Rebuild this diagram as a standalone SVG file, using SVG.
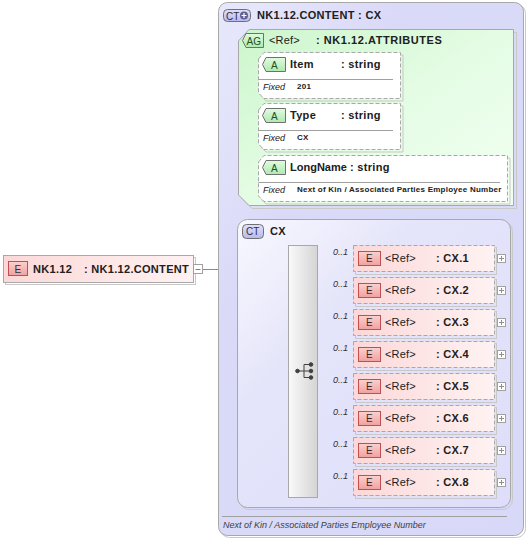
<svg xmlns="http://www.w3.org/2000/svg" width="530" height="540" viewBox="0 0 530 540">
<defs>
<linearGradient id="gOuter" x1="0" y1="0" x2="1" y2="1"><stop offset="0" stop-color="#e8e8fc"/><stop offset="0.3" stop-color="#dadaf8"/><stop offset="1" stop-color="#d8d8f8"/></linearGradient>
<linearGradient id="gCX" x1="0" y1="0" x2="1" y2="1"><stop offset="0" stop-color="#f8f8ff"/><stop offset="0.35" stop-color="#e4e4fa"/><stop offset="1" stop-color="#dedefa"/></linearGradient>
<linearGradient id="gAG" x1="0" y1="0" x2="1" y2="1"><stop offset="0" stop-color="#ccf6cc"/><stop offset="0.5" stop-color="#e4fce4"/><stop offset="1" stop-color="#f2fff2"/></linearGradient>
<linearGradient id="gEl" x1="0" y1="0" x2="1" y2="0"><stop offset="0" stop-color="#fcd8d8"/><stop offset="1" stop-color="#fff2f2"/></linearGradient>
<linearGradient id="gSeq" x1="0" y1="0" x2="1" y2="0"><stop offset="0" stop-color="#fafafa"/><stop offset="1" stop-color="#d4d4d4"/></linearGradient>
<linearGradient id="gE" x1="0" y1="0" x2="0" y2="1"><stop offset="0" stop-color="#fcd0d0"/><stop offset="1" stop-color="#f0a0a0"/></linearGradient>
<linearGradient id="gA" x1="0" y1="0" x2="0" y2="1"><stop offset="0" stop-color="#e0fce0"/><stop offset="1" stop-color="#b0e8b0"/></linearGradient>
<linearGradient id="gCT" x1="0" y1="0" x2="0" y2="1"><stop offset="0" stop-color="#e0e0fc"/><stop offset="1" stop-color="#b8b8ec"/></linearGradient>
</defs>
<style>
text{font-family:"Liberation Sans",Arial,sans-serif;fill:#202020}
.b{font-weight:bold;font-size:11px;letter-spacing:0.3px}
.r{font-size:11px;letter-spacing:0.2px}
.bd{font-size:10px;fill:#303030}
.fx{font-style:italic;font-size:9px}
.fv{font-weight:bold;font-size:8px;letter-spacing:0.25px}
.m{font-style:italic;font-size:9px;fill:#303030}
.ln{stroke:#8a8a8a;stroke-width:1;fill:none}
.box{stroke:#a8a8a8;stroke-width:1}
.dash{stroke:#a8a8a8;stroke-width:1;stroke-dasharray:4,2}
.sh{stroke:#c8c8c8;stroke-width:1;fill:none}
.btn{fill:#fff;stroke:#a0a0a0;stroke-width:1}
.ebadge{fill:url(#gE);stroke:#c05050;stroke-width:1}
.abadge{fill:url(#gA);stroke:#707070;stroke-width:1}
.ctbadge{fill:url(#gCT);stroke:#707070;stroke-width:1}
</style>

<g id="connectors">
<path class="ln" d="M203,269.5H228.5M228.5,121.5V363.5H238M238,371.5H288.5"/>
<path class="ln" d="M228.5,121.5H248.5M248.5,75.5V178.5M248.5,75.5H258.5M248.5,126.5H258.5M248.5,178.5H258.5"/>
<path class="ln" d="M317.5,258.5H353.5M317.5,290.5H353.5M317.5,322.5H353.5M317.5,354.5H353.5M317.5,386.5H353.5M317.5,418.5H353.5M317.5,450.5H353.5M317.5,482.5H353.5"/>
<text class="m" x="258" y="368">[1]..[1]</text>
</g>

<g id="nk112">
<rect x="5.5" y="257.5" width="190" height="27" class="sh"/>
<rect x="3.5" y="255.5" width="190" height="27" fill="url(#gEl)" class="box"/>
<rect x="8.5" y="261.5" width="19" height="14" class="ebadge"/>
<text class="bd" x="14.5" y="272.5">E</text>
<text class="b" x="33" y="273">NK1.12</text>
<text class="b" x="84" y="273">: NK1.12.CONTENT</text>
<rect x="193.5" y="264.5" width="9" height="9" class="btn"/>
<path d="M195.5,269.5h5" stroke="#808080"/>
</g>

<g id="content">
<rect x="220.5" y="4.5" width="305" height="533" rx="9" class="sh"/>
<rect x="218.5" y="2.5" width="305" height="533" rx="9" fill="url(#gOuter)" class="box"/>
<rect x="223.5" y="9.5" width="27" height="12" rx="4" class="ctbadge"/>
<text class="bd" x="226" y="19.5">CT</text>
<circle cx="244" cy="15.5" r="4" fill="#606090"/>
<path d="M241.5,15.5h5M244,13v5" stroke="#fff" stroke-width="1.2"/>
<text class="b" x="257" y="19">NK1.12.CONTENT : CX</text>
<line x1="222" y1="516.5" x2="507" y2="516.5" stroke="#a0a0a0"/>
<text x="223" y="528" style="font-style:italic;font-size:9px;fill:#404040">Next of Kin / Associated Parties Employee Number</text>
</g>

<g id="attributes">
<path d="M241.5,44 L252,32.5 H516.5 V208.5 H252 L241.5,198 Z" class="sh"/>
<path d="M238.5,41 L249,29.5 H513.5 V205.5 H249 L238.5,195 Z" fill="url(#gAG)" class="box"/>
<path d="M242.5,40.5 L246,33.5 H263.5 V47.5 H246 Z" class="abadge"/>
<text class="bd" x="246.5" y="44.5" style="fill:#205020">AG</text>
<text class="r" x="269" y="44">&lt;Ref&gt;</text>
<text class="b" x="316" y="44" style="letter-spacing:0.55px">: NK1.12.ATTRIBUTES</text>
</g>

<g id="item">
<path d="M261,62 L266,55 H403 V101 H266 L261,96" class="sh"/>
<path d="M258.5,59 L264,52.5 H400.5 V98.5 H264 L258.5,93 Z" fill="#fff" class="dash"/>
<path d="M262.5,64.5 L266,57.5 H285.5 V71.5 H266 Z" class="abadge"/>
<text class="bd" x="271" y="68.5" style="fill:#205020">A</text>
<text class="b" x="290" y="68">Item</text>
<text class="b" x="341" y="68">: string</text>
<line x1="258.5" y1="79.5" x2="393" y2="79.5" stroke="#a0a0a0"/>
<text class="fx" x="263" y="90">Fixed</text>
<text class="fv" x="297" y="89">201</text>
</g>

<g id="type">
<path d="M261,113 L266,106 H403 V152 H266 L261,147" class="sh"/>
<path d="M258.5,110 L264,103.5 H400.5 V149.5 H264 L258.5,144 Z" fill="#fff" class="dash"/>
<path d="M262.5,115.5 L266,108.5 H285.5 V122.5 H266 Z" class="abadge"/>
<text class="bd" x="271" y="119.5" style="fill:#205020">A</text>
<text class="b" x="290" y="119">Type</text>
<text class="b" x="341" y="119">: string</text>
<line x1="258.5" y1="130.5" x2="393" y2="130.5" stroke="#a0a0a0"/>
<text class="fx" x="263" y="141">Fixed</text>
<text class="fv" x="297" y="140">CX</text>
</g>

<g id="longname">
<path d="M261,165 L266,158 H510 V204 H266 L261,199" class="sh"/>
<path d="M258.5,162 L264,155.5 H507.5 V201.5 H264 L258.5,196 Z" fill="#fff" class="dash"/>
<path d="M262.5,167.5 L266,160.5 H285.5 V174.5 H266 Z" class="abadge"/>
<text class="bd" x="271" y="171.5" style="fill:#205020">A</text>
<text class="b" x="290" y="171" style="letter-spacing:0">LongName</text>
<text class="b" x="350" y="171">: string</text>
<line x1="258.5" y1="182.5" x2="500" y2="182.5" stroke="#a0a0a0"/>
<text class="fx" x="263" y="193">Fixed</text>
<text class="fv" x="297" y="192">Next of Kin / Associated Parties Employee Number</text>
</g>

<g id="cx">
<rect x="239.5" y="221.5" width="273" height="288" rx="10" class="sh"/>
<rect x="237.5" y="219.5" width="273" height="288" rx="10" fill="url(#gCX)" class="box"/>
<rect x="242.5" y="224.5" width="21" height="14" rx="4" class="ctbadge"/>
<text class="bd" x="246" y="235">CT</text>
<text class="b" x="270" y="235">CX</text>
</g>

<g id="sequence">
<rect x="288.5" y="245.5" width="29" height="252" fill="url(#gSeq)" stroke="#a8a8a8"/>
<g fill="#404040" stroke="#404040">
<circle cx="297.5" cy="371" r="1.8"/>
<path d="M297.5,371H304M304,364.5V377.5M304,364.5H311M304,371H311M304,377.5H311" fill="none"/>
<circle cx="311" cy="364.5" r="1.8"/>
<circle cx="311" cy="371" r="1.8"/>
<circle cx="311" cy="377.5" r="1.8"/>
</g>
</g>

<g id="cx1">
<rect x="355.5" y="247.5" width="141" height="27" class="sh"/>
<rect x="353.5" y="245.5" width="141" height="26" fill="url(#gEl)" class="dash"/>
<rect x="358.5" y="251.5" width="22" height="14" class="ebadge"/>
<text class="bd" x="366" y="262">E</text>
<text class="r" x="385" y="262">&lt;Ref&gt;</text>
<text class="b" x="436" y="262">: CX.1</text>
<text class="m" x="333" y="255">0..1</text>
<rect x="497.5" y="254.5" width="8" height="8" class="btn"/><path d="M499,258.5h5M501.5,256v5" stroke="#909090"/>
</g>
<g id="cx2">
<rect x="355.5" y="279.5" width="141" height="27" class="sh"/>
<rect x="353.5" y="277.5" width="141" height="26" fill="url(#gEl)" class="dash"/>
<rect x="358.5" y="283.5" width="22" height="14" class="ebadge"/>
<text class="bd" x="366" y="294">E</text>
<text class="r" x="385" y="294">&lt;Ref&gt;</text>
<text class="b" x="436" y="294">: CX.2</text>
<text class="m" x="333" y="287">0..1</text>
<rect x="497.5" y="286.5" width="8" height="8" class="btn"/><path d="M499,290.5h5M501.5,288v5" stroke="#909090"/>
</g>
<g id="cx3">
<rect x="355.5" y="311.5" width="141" height="27" class="sh"/>
<rect x="353.5" y="309.5" width="141" height="26" fill="url(#gEl)" class="dash"/>
<rect x="358.5" y="315.5" width="22" height="14" class="ebadge"/>
<text class="bd" x="366" y="326">E</text>
<text class="r" x="385" y="326">&lt;Ref&gt;</text>
<text class="b" x="436" y="326">: CX.3</text>
<text class="m" x="333" y="319">0..1</text>
<rect x="497.5" y="318.5" width="8" height="8" class="btn"/><path d="M499,322.5h5M501.5,320v5" stroke="#909090"/>
</g>
<g id="cx4">
<rect x="355.5" y="343.5" width="141" height="27" class="sh"/>
<rect x="353.5" y="341.5" width="141" height="26" fill="url(#gEl)" class="dash"/>
<rect x="358.5" y="347.5" width="22" height="14" class="ebadge"/>
<text class="bd" x="366" y="358">E</text>
<text class="r" x="385" y="358">&lt;Ref&gt;</text>
<text class="b" x="436" y="358">: CX.4</text>
<text class="m" x="333" y="351">0..1</text>
<rect x="497.5" y="350.5" width="8" height="8" class="btn"/><path d="M499,354.5h5M501.5,352v5" stroke="#909090"/>
</g>
<g id="cx5">
<rect x="355.5" y="375.5" width="141" height="27" class="sh"/>
<rect x="353.5" y="373.5" width="141" height="26" fill="url(#gEl)" class="dash"/>
<rect x="358.5" y="379.5" width="22" height="14" class="ebadge"/>
<text class="bd" x="366" y="390">E</text>
<text class="r" x="385" y="390">&lt;Ref&gt;</text>
<text class="b" x="436" y="390">: CX.5</text>
<text class="m" x="333" y="383">0..1</text>
<rect x="497.5" y="382.5" width="8" height="8" class="btn"/><path d="M499,386.5h5M501.5,384v5" stroke="#909090"/>
</g>
<g id="cx6">
<rect x="355.5" y="407.5" width="141" height="27" class="sh"/>
<rect x="353.5" y="405.5" width="141" height="26" fill="url(#gEl)" class="dash"/>
<rect x="358.5" y="411.5" width="22" height="14" class="ebadge"/>
<text class="bd" x="366" y="422">E</text>
<text class="r" x="385" y="422">&lt;Ref&gt;</text>
<text class="b" x="436" y="422">: CX.6</text>
<text class="m" x="333" y="415">0..1</text>
<rect x="497.5" y="414.5" width="8" height="8" class="btn"/><path d="M499,418.5h5M501.5,416v5" stroke="#909090"/>
</g>
<g id="cx7">
<rect x="355.5" y="439.5" width="141" height="27" class="sh"/>
<rect x="353.5" y="437.5" width="141" height="26" fill="url(#gEl)" class="dash"/>
<rect x="358.5" y="443.5" width="22" height="14" class="ebadge"/>
<text class="bd" x="366" y="454">E</text>
<text class="r" x="385" y="454">&lt;Ref&gt;</text>
<text class="b" x="436" y="454">: CX.7</text>
<text class="m" x="333" y="447">0..1</text>
<rect x="497.5" y="446.5" width="8" height="8" class="btn"/><path d="M499,450.5h5M501.5,448v5" stroke="#909090"/>
</g>
<g id="cx8">
<rect x="355.5" y="471.5" width="141" height="27" class="sh"/>
<rect x="353.5" y="469.5" width="141" height="26" fill="url(#gEl)" class="dash"/>
<rect x="358.5" y="475.5" width="22" height="14" class="ebadge"/>
<text class="bd" x="366" y="486">E</text>
<text class="r" x="385" y="486">&lt;Ref&gt;</text>
<text class="b" x="436" y="486">: CX.8</text>
<text class="m" x="333" y="479">0..1</text>
<rect x="497.5" y="478.5" width="8" height="8" class="btn"/><path d="M499,482.5h5M501.5,480v5" stroke="#909090"/>
</g>
</svg>
